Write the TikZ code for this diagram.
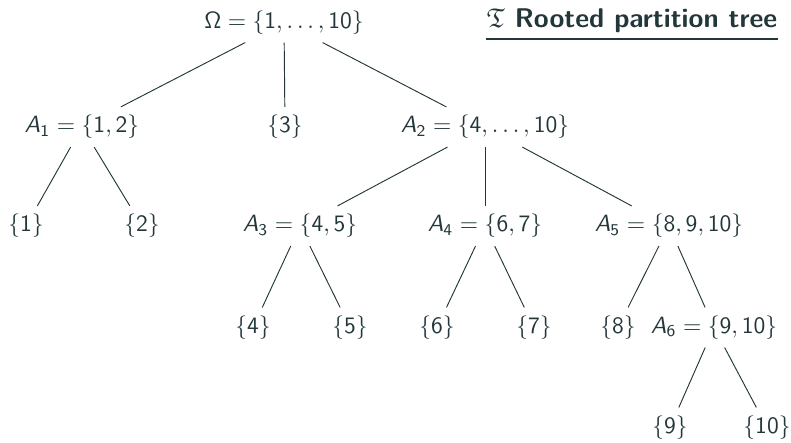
\documentclass[tikz,border=0pt]{standalone}
\usepackage{amsmath, amssymb}
\usepackage{tikz}
\usetikzlibrary{positioning}

% sans digits and Greek, slanted sans letters
\SetSymbolFont{operators}{normal}{OT1}{cmss}{m}{n}
\DeclareMathAlphabet{\mathssl}{OT1}{cmss}{m}{sl}
\newcommand{\setA}[1]{\mathssl{A}_{#1}}

\definecolor{slate}{HTML}{23373B}

\begin{document}
\begin{tikzpicture}[
        x=0.425pt,
        y=-0.425pt,
        every node/.style={
          text=slate
        },
        branch/.style={
          draw=slate,
          line width=0.4pt
        }
      ]
      \useasboundingbox (0,0) rectangle (791,443);

      % title
      \node[anchor=base, inner sep=0pt, font=\fontsize{11.5}{14}\sffamily\bfseries] (title) at (632,28)
        {$\mathfrak{T}$ Rooted partition tree};
      \draw[slate, line width=0.5pt]
        ([yshift=-4.7pt]title.base west) -- ([yshift=-4.7pt]title.base east);

      % levels
      \node (Om) at (284,22.5) {$\Omega = \{1,\dots,10\}$};

      \node (A1) at (82,127)  {$\setA{1} = \{1,2\}$};
      \node (S3) at (285,127) {$\{3\}$};
      \node (A2) at (485,127) {$\setA{2} = \{4,\dots,10\}$};

      \node (S1) at (26,226)  {$\{1\}$};
      \node (S2) at (142,226) {$\{2\}$};
      \node (A3) at (300,226) {$\setA{3} = \{4,5\}$};
      \node (A4) at (485,226) {$\setA{4} = \{6,7\}$};
      \node (A5) at (669,226) {$\setA{5} = \{8,9,10\}$};

      \node (S4) at (253,327.5) {$\{4\}$};
      \node (S5) at (350,327.5) {$\{5\}$};
      \node (S6) at (437,327.5) {$\{6\}$};
      \node (S7) at (534,327.5) {$\{7\}$};
      \node (S8) at (618,327.5) {$\{8\}$};
      \node (A6) at (714,327.5) {$\setA{6} = \{9,10\}$};

      \node (S9)  at (670,427.5) {$\{9\}$};
      \node (S10) at (767,427.5) {$\{10\}$};

      \path[branch]
      (Om) edge (A1)
      (Om) edge (S3)
      (Om) edge (A2)
      (A1) edge (S1)
      (A1) edge (S2)
      (A2) edge (A3)
      (A2) edge (A4)
      (A2) edge (A5)
      (A3) edge (S4)
      (A3) edge (S5)
      (A4) edge (S6)
      (A4) edge (S7)
      (A5) edge (S8)
      (A5) edge (A6)
      (A6) edge (S9)
      (A6) edge (S10);
    \end{tikzpicture}
\end{document}
